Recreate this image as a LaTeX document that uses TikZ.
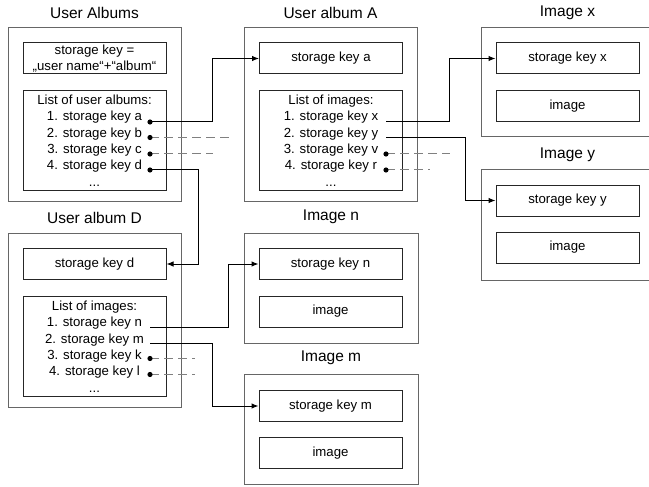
\documentclass[tikz,border=0pt]{standalone}
\usepackage{fontspec}
\setmainfont{Liberation Sans}
\usetikzlibrary{arrows.meta}
\newcommand\headfont{\fontsize{15.5}{18}\selectfont}
\newcommand\itemfont{\fontsize{13.2}{16.3}\selectfont}
\tikzset{
  frame/.style={draw=black!60, line width=1pt},
  keybox/.style={draw=black!85, line width=1pt, minimum width=143pt, minimum height=31pt, inner sep=1pt, font=\itemfont, align=center},
  listbox/.style={keybox, minimum height=100pt},
  title/.style={font=\headfont},
  link/.style={line width=1pt, -{Latex[length=7pt,width=5.5pt]}},
  loose/.style={draw=black!50, line width=1pt, dash pattern=on 9pt off 5pt},
}
\begin{document}
\begin{tikzpicture}[x=1pt,y=-1pt]
\useasboundingbox (0,0) rectangle (649,487);
\clip (0,0) rectangle (649,487);

% user albums
\node[title] (tAlbums) at (94.5,13) {User Albums};
\draw[frame] (8,28) rectangle (181,201);
\node[keybox] (keyUser) at (94.5,58.5) {storage key =\\„user name“+“album“};
\node[listbox] (listUser) at (94.5,140.5) {List of user albums:\\1. storage key a\\2. storage key b\\3. storage key c\\4. storage key d\\...};
\coordinate (ptA) at (150,122);
\coordinate (ptB) at (150,137.5);
\coordinate (ptC) at (150,154);
\coordinate (ptD) at (150,170);

% user album A
\node[title] (tAlbumA) at (330.5,13) {User album A};
\draw[frame] (244,28) rectangle (417,201);
\node[keybox] (keyA) at (331,58.5) {storage key a};
\node[listbox] (listA) at (331,140.5) {List of images:\\1. storage key x\\2. storage key y\\3. storage key v\\4. storage key r\\...};
\coordinate (ptX) at (386,122);
\coordinate (ptY) at (386,137.5);
\coordinate (ptV) at (386,154);
\coordinate (ptR) at (386,170);

% image x
\node[title] (tImgX) at (567.5,13) {Image x};
\draw[frame] (481,28) rectangle (660,137);
\node[keybox] (keyX) at (567.5,58.5) {storage key x};
\node[keybox] (imgX) at (567.5,106) {image};

% image y
\node[title] (tImgY) at (567.5,155) {Image y};
\draw[frame] (481,170) rectangle (660,280);
\node[keybox] (keyY) at (567.5,200.5) {storage key y};
\node[keybox] (imgY) at (567.5,247.5) {image};

% user album D
\node[title] (tAlbumD) at (94.5,218) {User album D};
\draw[frame] (8,233) rectangle (181,407);
\node[keybox] (keyD) at (94.5,264) {storage key d};
\node[listbox] (listD) at (94.5,346.5) {List of images:\\1. storage key n\\2. storage key m\\3. storage key k\\4. storage key l\\...};
\coordinate (ptN) at (150,327);
\coordinate (ptM) at (150,343);
\coordinate (ptK) at (150,358.5);
\coordinate (ptL) at (150,374.5);

% image n
\node[title] (tImgN) at (331,217) {Image n};
\draw[frame] (244,233) rectangle (418,343);
\node[keybox] (keyN) at (330.5,264) {storage key n};
\node[keybox] (imgN) at (330.5,311.5) {image};

% image m
\node[title] (tImgM) at (331,358) {Image m};
\draw[frame] (244,374) rectangle (418,484);
\node[keybox] (keyM) at (330.5,406) {storage key m};
\node[keybox] (imgM) at (330.5,453) {image};

% links
\draw[link] (ptA) -- ++(62,0) |- (keyA.west);
\draw[link] (ptD) -- ++(48,0) |- (keyD.east);
\draw[loose] (ptB) -- ++(79,0);
\draw[loose] (ptC) -- ++(63,0);
\draw[link] (ptX) -- ++(63,0) |- (keyX.west);
\draw[link] (ptY) -- ++(79,0) |- (keyY.west);
\draw[loose] (ptV) -- ++(64,0);
\draw[loose] (ptR) -- ++(44,0);
\draw[link] (ptN) -- ++(78,0) |- (keyN.west);
\draw[link] (ptM) -- ++(62,0) |- (keyM.west);
\draw[loose] (ptK) -- ++(45,0);
\draw[loose] (ptL) -- ++(45,0);
\foreach \p in {ptA,ptB,ptC,ptD,ptV,ptR,ptK,ptL}
  \fill (\p) circle (2.6);
\end{tikzpicture}
\end{document}
